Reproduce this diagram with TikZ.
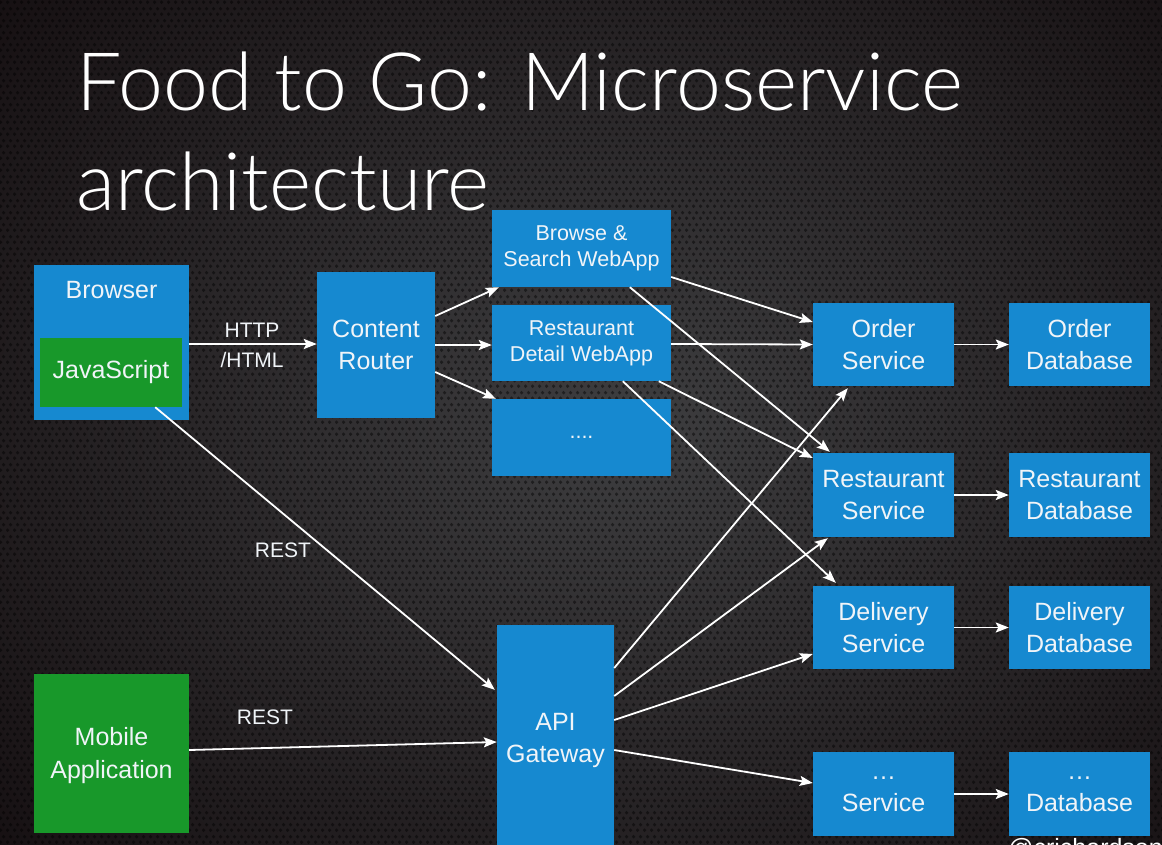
\documentclass[tikz,border=0pt]{standalone}
\usepackage{fontspec}
\setmainfont{Liberation Sans}
\newfontfamily\titlefont{Lato Light}
\usetikzlibrary{arrows.meta,calc,patterns}

% perforated metal texture
\pgfdeclarepatternformonly{holes}{\pgfpointorigin}{\pgfqpoint{7pt}{12pt}}{\pgfqpoint{7pt}{12pt}}{%
  \pgfpathcircle{\pgfqpoint{1.75pt}{3pt}}{2pt}%
  \pgfpathcircle{\pgfqpoint{5.25pt}{9pt}}{2pt}%
  \pgfusepath{fill}}

\definecolor{svcblue}{RGB}{22,137,208}
\definecolor{appgreen}{RGB}{24,152,42}
\definecolor{bgmid}{RGB}{62,62,64}
\definecolor{bgdark}{RGB}{20,14,16}
\definecolor{txtwhite}{RGB}{240,244,248}

\tikzset{
  box/.style={fill=svcblue, draw=none, inner sep=0pt, align=center,
    text=txtwhite, font=\fontsize{25}{32}\selectfont},
  gbox/.style={box, fill=appgreen},
  webbox/.style={box, font=\fontsize{21.5}{26}\selectfont},
  lbl/.style={text=txtwhite, align=center, inner sep=0pt, font=\fontsize{21}{30}\selectfont},
  flow/.style={draw=white, line width=1.8pt, -{Stealth[length=13pt,width=10pt,inset=2.5pt]}},
  titletext/.style={anchor=base west, inner sep=0pt, text=white, font=\titlefont\fontsize{80.6}{90}\selectfont},
}

\begin{document}
\begin{tikzpicture}[x=1pt,y=-1pt]
\useasboundingbox (0,0) rectangle (1162,844);
% background
\shade[inner color=bgmid, outer color=bgdark] (-250,-250) rectangle (1500,1100);
\fill[pattern=holes, pattern color=black, opacity=0.45] (0,0) rectangle (1162,844);

% title
\node[titletext] (title1) at (76,110) {Food to Go: Microservice};
\node[titletext] (title2) at (76,210) {architecture};

% clients
\node[box, minimum width=155, minimum height=155] (browser) at (111.5,342.5) {};
\node[lbl, font=\fontsize{25}{32}\selectfont, anchor=base] (browserlbl) at (111.5,298) {Browser};
\node[gbox, minimum width=142, minimum height=69] (js) at (111,372.5) {JavaScript};
\node[gbox, minimum width=155, minimum height=159] (mobile) at (111.5,753.5) {};
\node[lbl, font=\fontsize{25}{33}\selectfont] (mobilelbl) at (111.5,756) {Mobile\\Application};

% router and web apps
\node[box, minimum width=118, minimum height=146] (router) at (376,345) {Content\\Router};
\node[webbox, minimum width=179, minimum height=77] (browse) at (581.5,248.5) {Browse \&\\Search WebApp};
\node[webbox, minimum width=179, minimum height=76] (detail) at (581.5,343) {Restaurant\\Detail WebApp};
\node[webbox, minimum width=179, minimum height=77] (moreapp) at (581.5,437.5) {....};

% gateway
\node[box, minimum width=117, minimum height=230] (api) at (555.5,740) {API\\Gateway};

% services
\node[box, minimum width=141, minimum height=83] (ordersvc) at (883.5,344.5) {Order\\Service};
\node[box, minimum width=141, minimum height=84] (restsvc) at (883.5,495) {Restaurant\\Service};
\node[box, minimum width=141, minimum height=83] (delsvc) at (883.5,627.5) {Delivery\\Service};
\node[box, minimum width=141, minimum height=84] (moresvc) at (883.5,794) {…\\Service};

% databases
\node[box, minimum width=141, minimum height=83] (orderdb) at (1079.5,344.5) {Order\\Database};
\node[box, minimum width=141, minimum height=84] (restdb) at (1079.5,495) {Restaurant\\Database};
\node[box, minimum width=141, minimum height=83] (deldb) at (1079.5,627.5) {Delivery\\Database};
\node[box, minimum width=141, minimum height=84] (moredb) at (1079.5,794) {…\\Database};

% browser traffic
\draw[flow] ($(browser.east)+(0,1.5)$) -- ($(router.west)+(0,-1)$);
\node[lbl] (httplbl) at (252,345) {HTTP\\/HTML};
\draw[flow] ($(router.east)+(0,-29)$) -- ($(browse.south west)+(7,0)$);
\draw[flow] (router.east) -- (router.east -| detail.west);
\draw[flow] ($(router.east)+(0,27)$) -- ($(moreapp.north west)+(4,0)$);

% web apps to services
\draw[flow] ($(browse.east)+(0,28.5)$) -- ($(ordersvc.west)+(0,-22.5)$);
\draw[flow] ($(browse.south west)+(138,0)$) -- ($(restsvc.north west)+(17,-1)$);
\draw[flow] ($(detail.east)+(0,1)$) -- ($(ordersvc.west)+(0,0)$);
\draw[flow] ($(detail.south west)+(167,0)$) -- ($(restsvc.west)+(0,-37)$);
\draw[flow] ($(detail.south west)+(131,0)$) -- ($(delsvc.north west)+(23,-3)$);

% REST clients to gateway
\draw[flow] ($(js.south east)+(-27,0)$) -- ($(api.north west)+(-2,65)$);
\node[lbl] (rest1) at (283,550) {REST};
\draw[flow] ($(mobile.east)+(0,-3.5)$) -- ($(api.west)+(0,2)$);
\node[lbl] (rest2) at (265,717) {REST};

% gateway to services
\draw[flow] ($(api.east)+(0,-72)$) -- ($(ordersvc.south west)+(35,2)$);
\draw[flow] ($(api.east)+(0,-44)$) -- ($(restsvc.south west)+(15,1)$);
\draw[flow] ($(api.east)+(0,-20)$) -- ($(delsvc.west)+(0,26.5)$);
\draw[flow] ($(api.east)+(0,10)$) -- ($(moresvc.west)+(0,-11)$);

% services to databases
\draw[flow] (ordersvc.east) -- (orderdb.west);
\draw[flow] (restsvc.east) -- (restdb.west);
\draw[flow] (delsvc.east) -- (deldb.west);
\draw[flow] (moresvc.east) -- (moredb.west);

% author handle, running off the lower edge
\node[anchor=base west, inner sep=0pt, text=white, font=\fontsize{25}{30}\selectfont]
  (handle) at (1008,856) {@crichardson};
\end{tikzpicture}
\end{document}
